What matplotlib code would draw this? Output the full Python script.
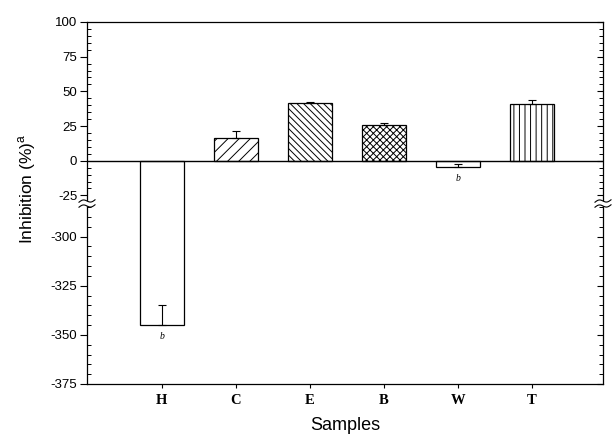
import numpy as np
import matplotlib
matplotlib.use("Agg")
import matplotlib.pyplot as plt
from matplotlib.lines import Line2D
from matplotlib.patches import Polygon
from matplotlib.ticker import MultipleLocator

# ---- data ----
samples = ['H', 'C', 'E', 'B', 'W', 'T']
inhibition = [-345, 16.5, 41.5, 26, -4.5, 41]
errors = [10, 5, 1, 1.5, 2, 3]
hatches = ['', '///', '\\\\\\\\\\', 'xxxxx', '', '|||']
sig_marks = ['b', '', '', '', 'b', '']
upper_ticks = [100, 75, 50, 25, 0, -25]
lower_ticks = [-300, -325, -350, -375]

plt.rcParams['font.family'] = ['Liberation Sans', 'DejaVu Sans']
plt.rcParams['hatch.linewidth'] = 0.7

W, H = 613, 437
fig = plt.figure(figsize=(W / 100, H / 100), dpi=100)


def fx(px):
    return px / W


def fy(py):
    return 1 - py / H


left, right = 87, 603
top, brk, bottom = 22, 203, 384
ax_top = fig.add_axes([fx(left), fy(brk), fx(right - left), (brk - top) / H])
ax_bot = fig.add_axes([fx(left), fy(bottom), fx(right - left), (bottom - brk) / H])

x = np.arange(len(samples))
for ax, ylim in ((ax_top, (-30.5, 100)), (ax_bot, (-375, -282.9))):
    bars = ax.bar(x, inhibition, width=0.6, color='white', edgecolor='black',
                  linewidth=0.9, zorder=2)
    for b, h in zip(bars, hatches):
        b.set_hatch(h)
    ax.errorbar(x, inhibition, yerr=[np.zeros(len(x)), errors], fmt='none',
                ecolor='black', elinewidth=0.8, capsize=3.2, capthick=0.8, zorder=3)
    ax.set_xlim(-1.01, 5.96)
    ax.set_ylim(*ylim)
    ax.yaxis.set_minor_locator(MultipleLocator(5))
    ax.tick_params(axis='y', which='major', direction='out', length=5, width=0.8,
                   labelsize=9.5, pad=2)
    ax.tick_params(axis='y', which='minor', direction='in', length=3, width=0.7)
    for s in ax.spines.values():
        s.set_linewidth(0.9)
    # right side ticks (inward)
    axr = ax.twinx()
    axr.set_ylim(*ylim)
    axr.yaxis.set_minor_locator(MultipleLocator(5))
    axr.tick_params(axis='y', which='major', direction='in', length=4, width=0.8,
                    labelright=False)
    axr.tick_params(axis='y', which='minor', direction='in', length=3, width=0.7)
    for s in axr.spines.values():
        s.set_visible(False)
    if ax is ax_top:
        axr.set_yticks(upper_ticks)
    else:
        axr.set_yticks(lower_ticks)

ax_top.set_yticks(upper_ticks)
ax_top.set_yticklabels([str(t) for t in upper_ticks])
ax_top.set_xticks([])
ax_top.spines['bottom'].set_visible(False)
ax_top.axhline(0, color='black', lw=1.0, zorder=4)

ax_bot.set_yticks(lower_ticks)
ax_bot.set_yticklabels([str(t) for t in lower_ticks])
ax_bot.spines['top'].set_visible(False)
ax_bot.set_xticks(x)
ax_bot.set_xticklabels(samples, fontfamily='Liberation Serif', fontweight='bold',
                       fontsize=10.5)
ax_bot.tick_params(axis='x', direction='out', length=3, width=0.8, pad=4)

# significance marks
for i, (v, m) in enumerate(zip(inhibition, sig_marks)):
    if not m:
        continue
    target = ax_bot if v < -100 else ax_top
    target.annotate(m, (x[i], v), xytext=(0, -8), textcoords='offset points',
                    ha='center', va='center', fontfamily='Liberation Serif',
                    fontstyle='italic', fontsize=7)

# axis labels
fig.text(fx(27), fy(189), 'Inhibition (%)$^\\mathregular{a}$', rotation=90,
         ha='center', va='center', fontsize=12.5)
fig.text(fx(345), fy(426), 'Samples', ha='center', va='center', fontsize=13)

# break marks on both spines
for cx in (left, right):
    t = np.linspace(-1, 1, 40)
    xs = cx + 8 * t
    ya = brk - 2 + 1.6 * np.sin(np.pi * t) - 1.2 * t
    yb = brk + 3 + 1.6 * np.sin(np.pi * t) - 1.2 * t
    poly = np.column_stack([np.concatenate([xs, xs[::-1]]),
                            np.concatenate([ya, yb[::-1]])])
    poly_fig = np.column_stack([fx(poly[:, 0]), fy(poly[:, 1])])
    fig.patches.append(Polygon(poly_fig, closed=True, facecolor='white',
                               edgecolor='none', transform=fig.transFigure,
                               zorder=10))
    for yy in (ya, yb):
        fig.lines.append(Line2D(fx(xs), fy(yy), color='black', lw=0.8,
                                transform=fig.transFigure, zorder=11))

fig.savefig('out.png', dpi=100)
